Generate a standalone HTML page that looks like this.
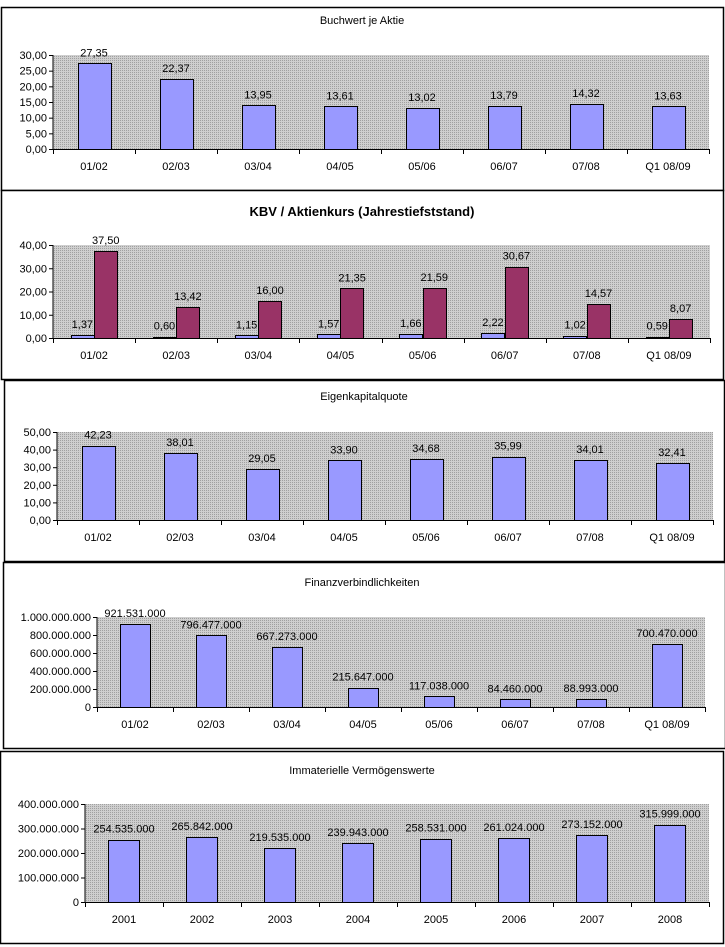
<!DOCTYPE html>
<html><head><meta charset="utf-8">
<style>
html,body{margin:0;padding:0;background:#fff;}
svg{display:block;}
text{font-family:"Liberation Sans",Arial,sans-serif;font-size:11px;fill:#000;}
</style></head>
<body>
<svg id="s" width="725" height="947" viewBox="0 0 725 947" xmlns="http://www.w3.org/2000/svg">
<defs>
<pattern id="dots" width="2" height="2" patternUnits="userSpaceOnUse">
<rect width="2" height="2" fill="#cfcfcf"/><rect width="1" height="1" fill="#a0a0a0"/>
</pattern>
</defs>
</svg>
<script>
// Chart 1: Buchwert je Aktie
const c1Categories = ["01/02","02/03","03/04","04/05","05/06","06/07","07/08","Q1 08/09"];
const c1Values = [27.35,22.37,13.95,13.61,13.02,13.79,14.32,13.63];
const c1Ticks = [0,5,10,15,20,25,30];
// Chart 2: KBV / Aktienkurs
const c2Categories = ["01/02","02/03","03/04","04/05","05/06","06/07","07/08","Q1 08/09"];
const c2Kbv = [1.37,0.60,1.15,1.57,1.66,2.22,1.02,0.59];
const c2Kurs = [37.50,13.42,16.00,21.35,21.59,30.67,14.57,8.07];
const c2Ticks = [0,10,20,30,40];
// Chart 3: Eigenkapitalquote
const c3Categories = ["01/02","02/03","03/04","04/05","05/06","06/07","07/08","Q1 08/09"];
const c3Values = [42.23,38.01,29.05,33.90,34.68,35.99,34.01,32.41];
const c3Ticks = [0,10,20,30,40,50];
// Chart 4: Finanzverbindlichkeiten
const c4Categories = ["01/02","02/03","03/04","04/05","05/06","06/07","07/08","Q1 08/09"];
const c4Values = [921531000,796477000,667273000,215647000,117038000,84460000,88993000,700470000];
const c4Ticks = [0,200000000,400000000,600000000,800000000,1000000000];
// Chart 5: Immaterielle Vermögenswerte
const c5Categories = ["2001","2002","2003","2004","2005","2006","2007","2008"];
const c5Values = [254535000,265842000,219535000,239943000,258531000,261024000,273152000,315999000];
const c5Ticks = [0,100000000,200000000,300000000,400000000];

const NS="http://www.w3.org/2000/svg";
const svg=document.getElementById('s');
function el(tag,attrs,parent){const e=document.createElementNS(NS,tag);for(const k in attrs)e.setAttribute(k,attrs[k]);(parent||svg).appendChild(e);return e;}
function fmtDec(v){return v.toFixed(2).replace('.',',');}
function fmtInt(v){return Math.round(v).toString().replace(/\B(?=(\d{3})+(?!\d))/g,'.');}

function chart(o){
  const g=el('g',{});
  
  
  const box=el('rect',{x:o.box[0]+0.5,y:o.box[1]+0.5,width:o.box[2],height:o.box[3],fill:'#fff',stroke:'#000','stroke-width':1.5},g);
  
  
  const t=el('text',{x:o.titleX,y:o.titleY,'text-anchor':'middle'},g);
  t.textContent=o.title;
  if(o.bold){t.setAttribute('font-weight','bold');t.setAttribute('style','font-size:13px');}
  
  
  const L=o.plot[0],T=o.plot[1],R=o.plot[2],B=o.plot[3];
  const max=o.ticks[o.ticks.length-1];
  const y=v=>B-(v/max)*(B-T);
  const n=o.cats.length, cw=(R-L)/n;
  const x=i=>L+cw*i;
  const bg=el('rect',{x:L,y:T,width:R-L,height:B-T,fill:'url(#dots)'},g);
  
  
  el('line',{x1:L,y1:T,x2:L,y2:B+0.5,stroke:'#000'},g);
  el('line',{x1:L,y1:B+0.5,x2:R,y2:B+0.5,stroke:'#000'},g);
  o.ticks.forEach(tv=>{
    el('line',{x1:L-4,y1:y(tv)+0.5,x2:L,y2:y(tv)+0.5,stroke:'#000'},g);
    const tl=el('text',{x:L-6,y:y(tv)+4,'text-anchor':'end'},g);
    tl.textContent=o.fmt(tv);
    
    
  });
  for(let i=0;i<=n;i++) el('line',{x1:Math.round(x(i))+0.5,y1:B,x2:Math.round(x(i))+0.5,y2:B+5,stroke:'#000'},g);
  o.cats.forEach((c,i)=>{
    const cl=el('text',{x:x(i)+cw/2,y:B+21,'text-anchor':'middle'},g);
    cl.textContent=c;
    
    
  });
  const series=o.series;
  const groupW=cw*o.bw;
  const sw=groupW/series.length;
  series.forEach((s,si)=>{
    s.vals.forEach((v,i)=>{
      const bx=x(i)+cw/2-groupW/2+si*sw;
      const r=el('rect',{x:Math.round(bx)+0.5,y:Math.round(y(v))+0.5,width:Math.round(sw),height:Math.max(0,Math.round(B-y(v))),fill:s.color,stroke:'#000','stroke-width':1},g);
      
      
      const lbl=el('text',{x:bx+sw/2,y:y(v)-7,'text-anchor':'middle'},g);
      lbl.textContent=o.fmt(v);
      
      
    });
  });
}

chart({name:'buchwert-chart',box:[1,7,722,183],title:'Buchwert je Aktie',titleX:362,titleY:24,plot:[53,55,709,149],ticks:c1Ticks,cats:c1Categories,fmt:fmtDec,bw:0.4,series:[{key:'buchwert',vals:c1Values,color:'#9999ff'}]});
chart({name:'kbv-chart',box:[1,190,722,189],title:'KBV / Aktienkurs (Jahrestiefststand)',titleX:362,titleY:216,bold:true,plot:[53,245,710,338],ticks:c2Ticks,cats:c2Categories,fmt:fmtDec,bw:0.57,series:[{key:'kbv',vals:c2Kbv,color:'#9999ff'},{key:'kurs',vals:c2Kurs,color:'#993366'}]});
chart({name:'eigenkapital-chart',box:[4,380,720,181],title:'Eigenkapitalquote',titleX:364,titleY:400,plot:[57,432,713,520],ticks:c3Ticks,cats:c3Categories,fmt:fmtDec,bw:0.4,series:[{key:'ekq',vals:c3Values,color:'#9999ff'}]});
chart({name:'finanz-chart',box:[3,562,722,186],title:'Finanzverbindlichkeiten',titleX:362,titleY:586,plot:[97,617,705,707],ticks:c4Ticks,cats:c4Categories,fmt:fmtInt,bw:0.4,series:[{key:'finanz',vals:c4Values,color:'#9999ff'}]});
chart({name:'immateriell-chart',box:[0,751,723,192],title:'Immaterielle Vermögenswerte',titleX:362,titleY:774,plot:[85,804,709,902],ticks:c5Ticks,cats:c5Categories,fmt:fmtInt,bw:0.4,series:[{key:'immat',vals:c5Values,color:'#9999ff'}]});
</script>
</body></html>
